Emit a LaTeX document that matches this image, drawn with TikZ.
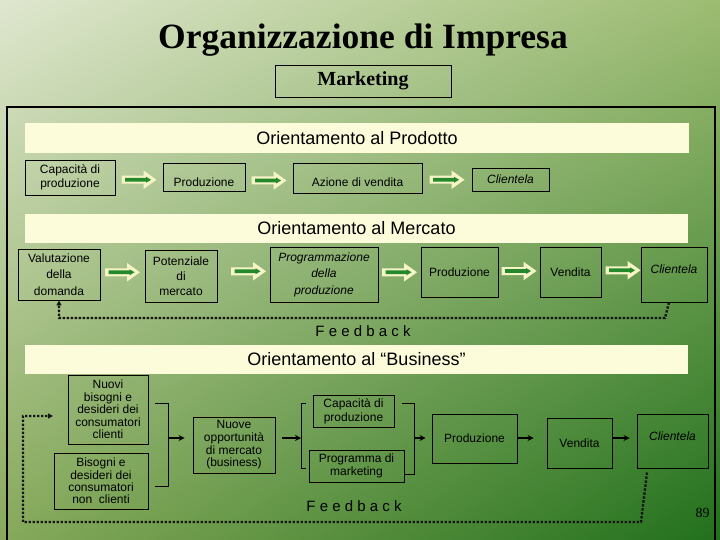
\documentclass[tikz,border=0pt]{standalone}
\usepackage{fontspec}
\setmainfont{Liberation Serif}
\setsansfont{Liberation Sans}
\usetikzlibrary{calc,arrows.meta,shadings}
\definecolor{bgTL}{HTML}{DFE7CF}
\definecolor{bgTR}{HTML}{9DBC72}
\definecolor{bgBL}{HTML}{86A95A}
\definecolor{bgBR}{HTML}{21701C}
\definecolor{cream}{HTML}{FCFBDA}
\definecolor{arrcream}{HTML}{F6F4C6}
\definecolor{arrgreen}{HTML}{23892A}
\definecolor{fbcol}{HTML}{151515}
\tikzset{
  box/.style={draw=black, line width=0.9pt, inner sep=0pt, align=center,
    font=\sffamily\fontsize{12}{14}\selectfont},
  banner/.style={fill=cream, inner sep=0pt, font=\sffamily\fontsize{18}{20}\selectfont},
  fbtext/.style={font=\sffamily\fontsize{15}{16}\selectfont, inner sep=0pt},
  brk/.style={draw=black, line width=1pt},
  arr/.style={draw=black, line width=1.6pt, -{Stealth[length=6pt,width=6pt]}},
  fb/.style={draw=fbcol, line width=2.4pt, dash pattern=on 2.4pt off 1.6pt},
  blockarr/.pic={
    \fill[arrcream] (-17.5,-4) -- (4.5,-4) -- (4.5,-9.3) -- (17.5,0) -- (4.5,9.3) -- (4.5,4) -- (-17.5,4) -- cycle;
    \fill[arrgreen] (-14,-1.8) -- (7,-1.8) -- (7,-3) -- (12,0) -- (7,3) -- (7,1.8) -- (-14,1.8) -- cycle;
  }
}
\begin{document}
\begin{tikzpicture}[x=1pt,y=-1pt]
\useasboundingbox (0,0) rectangle (720,540);
\shade[upper left=bgTL, upper right=bgTR, lower left=bgBL, lower right=bgBR] (0,0) rectangle (720,540);

% title
\node[font=\bfseries\fontsize{35.5}{38}\selectfont, inner sep=0pt] (title) at (363,40) {Organizzazione di Impresa};
\node[draw=black, line width=0.9pt, minimum width=176pt, minimum height=32pt, inner sep=0pt,
      font=\bfseries\fontsize{20}{22}\selectfont] (mkt) at (363,81) {Marketing};

% outer frame
\draw[line width=1.3pt] (7,540) -- (7,107) -- (715,107) -- (715,540);

% banners
\node[banner, minimum width=664pt, minimum height=30pt] (ban1) at (357,138) {Orientamento al Prodotto};
\node[banner, minimum width=663pt, minimum height=29pt] (ban2) at (356.5,228.5) {Orientamento al Mercato};
\node[banner, minimum width=663pt, minimum height=29pt] (ban3) at (356.5,359.5) {Orientamento al “Business”};

% row 1
\node[box, minimum width=90pt, minimum height=35pt] (cap1) at (70,177.5) {Capacità di\\produzione};
\node[box, minimum width=82pt, minimum height=28pt, text height=21pt, text depth=2.5pt] (prod1) at (204,177) {Produzione};
\node[box, minimum width=129pt, minimum height=30pt, text height=19pt, text depth=2.5pt] (azi1) at (357.5,178) {Azione di vendita};
\node[box, minimum width=77pt, minimum height=23pt] (clie1) at (510.5,179.5) {\itshape Clientela};

\path ($(cap1.east)!0.5!(prod1.west)+(0,2.5)$) pic {blockarr};
\path ($(prod1.east)!0.5!(azi1.west)+(0,3)$) pic {blockarr};
\path ($(azi1.east)!0.5!(clie1.west)+(0,1)$) pic {blockarr};

% row 2
\tikzset{row2/.style={font=\sffamily\fontsize{12}{16.5}\selectfont}}
\node[box, row2, minimum width=82pt, minimum height=51pt] (val2) at (59,274.5) {Valutazione\\della\\domanda};
\node[box, font=\sffamily\fontsize{12}{15}\selectfont, minimum width=72pt, minimum height=52pt] (pot2) at (181,276) {Potenziale\\di\\mercato};
\node[box, row2, minimum width=108pt, minimum height=55pt] (prg2) at (324,274.5) {\itshape Programmazione\\\itshape della\\\itshape produzione};
\node[box, minimum width=77pt, minimum height=50pt] (prod2) at (459.5,272) {Produzione};
\node[box, minimum width=61pt, minimum height=50pt] (vend2) at (570.5,272) {Vendita};
\node[box, minimum width=66pt, minimum height=55pt, text height=9pt, text depth=11.5pt] (clie2) at (674,274.5) {\itshape Clientela};

\path ($(val2.east)!0.5!(pot2.west)+(0,-3)$) pic {blockarr};
\path ($(pot2.east)!0.5!(prg2.west)+(5,-4)$) pic {blockarr};
\path ($(prg2.east)!0.5!(prod2.west)+(0,-1)$) pic {blockarr};
\path ($(prod2.east)!0.5!(vend2.west)+(0,-1)$) pic {blockarr};
\path ($(vend2.east)!0.5!(clie2.west)+(2,-3)$) pic {blockarr};

% feedback 1
\coordinate (fb1a) at ($(clie2.south)+(-5,0)$);
\draw[fb, -{Triangle[length=5pt,width=5pt]}] (fb1a) -- (665,318) -- (val2.south |- 0,318) -- (val2.south);
\node[fbtext] (fbt1) at (363,331) {F e e d b a c k};

% row 3
\tikzset{row3/.style={font=\sffamily\fontsize{12}{12.4}\selectfont}}
\node[box, row3, minimum width=80pt, minimum height=69pt] (nuovi) at (108,409.5) {Nuovi\\bisogni e\\desideri dei\\consumatori\\clienti};
\node[box, row3, minimum width=94pt, minimum height=56pt] (bis) at (101,481) {Bisogni e\\desideri dei\\consumatori\\non\ \ clienti};
\node[box, font=\sffamily\fontsize{12}{12.7}\selectfont, minimum width=82pt, minimum height=56pt] (nuove) at (234,445) {Nuove\\opportunità\\di mercato\\(business)};
\node[box, minimum width=81pt, minimum height=32pt] (cap3) at (353.5,411) {Capacità di\\produzione};
\node[box, font=\sffamily\fontsize{12}{13}\selectfont, minimum width=95pt, minimum height=32pt] (prg3) at (356.5,466) {Programma di\\marketing};
\node[box, minimum width=85pt, minimum height=49pt] (prod3) at (474.5,438.5) {Produzione};
\node[box, minimum width=65pt, minimum height=50pt] (vend3) at (579.5,443) {Vendita};
\node[box, minimum width=71pt, minimum height=54pt, text height=9pt, text depth=10.5pt] (clie3) at (672.5,441) {\itshape Clientela};

% brackets and arrows
\draw[brk] (155,403) -- (168,403) -- (168,486) -- (155,486);
\coordinate (b1) at (168,438);
\draw[arr, shorten >=8pt] (b1) -- (b1 -| nuove.west);
\coordinate (b2) at (301,438);
\draw[arr] (nuove.east |- b2) ++(7,0) -- (b2);
\draw[brk] (306,403) -- (301,403) -- (301,468) -- (306,468);
\draw[brk] (402,403) -- (414,403) -- (414,474) -- (405,474);
\coordinate (b3) at (414,438);
\draw[arr, shorten >=6pt] (b3) -- (b3 -| prod3.west);
\draw[arr, shorten >=13pt] (prod3.east |- b3) -- (b3 -| vend3.west);
\draw[arr, shorten >=7pt] (vend3.east |- b3) -- (b3 -| clie3.west);

% feedback 2
\coordinate (fb2a) at ($(clie3.south)+(-25.5,4)$);
\coordinate (fb2end) at (53,416);
\draw[fb, -{Triangle[length=5pt,width=5pt]}] (fb2a) -- (641,522) -- (23,522) -- (23,416) -- (fb2end);
\node[fbtext] (fbt2) at (354,506) {F e e d b a c k};

\node[font=\fontsize{14}{15}\selectfont, inner sep=0pt] (pnum) at (702.5,513) {89};
\end{tikzpicture}
\end{document}
